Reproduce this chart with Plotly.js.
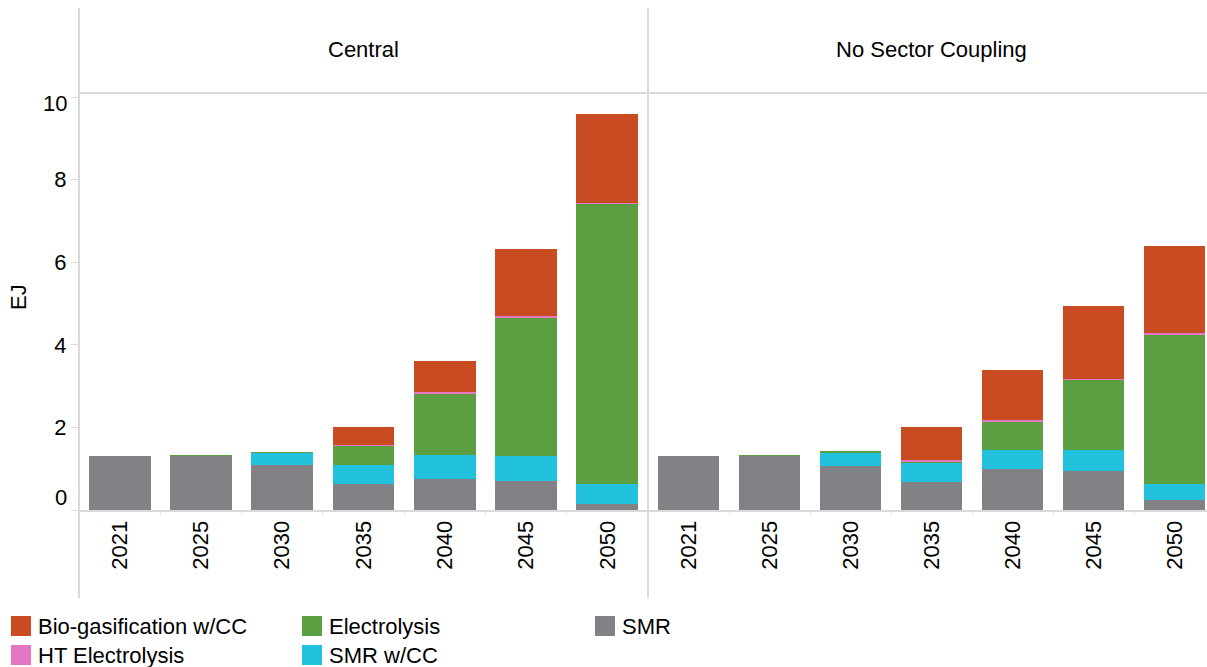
<!DOCTYPE html>
<html>
<head>
<meta charset="utf-8">
<script src="https://cdn.plot.ly/plotly-3.0.1.min.js"></script>
<style>html,body{margin:0;padding:0;background:#fff;}#chart{width:1207px;height:667px;}</style>
</head>
<body>
<div id="chart"></div>
<script>
// ---- data ----
const years = ['2021','2025','2030','2035','2040','2045','2050'];
const panels = ['Central', 'No Sector Coupling'];
const seriesNames = ['SMR', 'SMR w/CC', 'Electrolysis', 'HT Electrolysis', 'Bio-gasification w/CC'];

// Central
const smrCentral   = [1.32, 1.30, 1.08, 0.63, 0.74, 0.70, 0.14];
const smrccCentral = [0.00, 0.00, 0.29, 0.46, 0.60, 0.62, 0.48];
const elecCentral  = [0.00, 0.04, 0.04, 0.45, 1.47, 3.34, 6.79];
const htCentral    = [0.00, 0.00, 0.00, 0.03, 0.04, 0.03, 0.03];
const bioCentral   = [0.00, 0.00, 0.00, 0.45, 0.75, 1.64, 2.16];

// No Sector Coupling
const smrNSC   = [1.32, 1.30, 1.06, 0.69, 0.99, 0.94, 0.24];
const smrccNSC = [0.00, 0.00, 0.31, 0.44, 0.46, 0.51, 0.40];
const elecNSC  = [0.00, 0.04, 0.05, 0.03, 0.69, 1.70, 3.59];
const htNSC    = [0.00, 0.00, 0.00, 0.05, 0.03, 0.02, 0.05];
const bioNSC   = [0.00, 0.00, 0.00, 0.79, 1.23, 1.78, 2.11];

const yTickVals = [0, 2, 4, 6, 8, 10];

// ---- styles ----
const colors = {
  'SMR': '#828286',
  'SMR w/CC': '#22C2DF',
  'Electrolysis': '#5C9E42',
  'HT Electrolysis': '#E377C2',
  'Bio-gasification w/CC': '#C94B21'
};
const FONT = 'Liberation Sans, Arial, Helvetica, sans-serif';
const FS = 22;
const W = 1207, H = 667;
const L = 79, R = 0, T = 93, B = 157;
const PW = W - L - R, PH = H - T - B;
const px2x = p => (p - L) / PW;
const py2y = p => (H - B - p) / PH;
const lineCol = '#dadada';

const panelData = [
  [smrCentral, smrccCentral, elecCentral, htCentral, bioCentral],
  [smrNSC, smrccNSC, elecNSC, htNSC, bioNSC]
];

const traces = [];
panelData.forEach((arrs, pi) => {
  arrs.forEach((vals, si) => {
    traces.push({
      type: 'bar',
      x: years,
      y: vals,
      name: seriesNames[si],
      xaxis: pi === 0 ? 'x' : 'x2',
      yaxis: 'y',
      marker: {color: colors[seriesNames[si]], line: {width: 0}},
      showlegend: false,
      hoverinfo: 'skip'
    });
  });
});

const split = 569 / PW;

const xCommon = {
  type: 'category',
  showline: true, linecolor: lineCol, linewidth: 2,
  ticks: 'outside', tickson: 'boundaries', ticklen: 4, tickcolor: '#e6e6e6', tickwidth: 1,
  tickangle: -90,
  tickfont: {family: FONT, size: FS, color: '#000'},
  showgrid: false, zeroline: false, fixedrange: true
};

const layout = {
  width: W, height: H,
  margin: {l: L, r: R, t: T, b: B, pad: 0},
  paper_bgcolor: '#fff', plot_bgcolor: '#fff',
  barmode: 'stack', bargap: 0.24,
  font: {family: FONT, size: FS, color: '#000'},
  showlegend: false,
  xaxis: Object.assign({}, xCommon, {domain: [0, split], range: [-0.5, 6.5], anchor: 'y'}),
  xaxis2: Object.assign({}, xCommon, {domain: [split, 1], range: [-0.5, 6.4], anchor: 'y'}),
  yaxis: {
    range: [0, 10.1],
    tickvals: yTickVals,
    ticktext: yTickVals.map(v => (v === 0 || v === 10) ? '' : String(v)),
    ticks: 'outside', ticklen: 7, tickcolor: lineCol, tickwidth: 1,
    tickfont: {family: FONT, size: FS, color: '#000'},
    showgrid: false, zeroline: false, showline: false, fixedrange: true
  },
  shapes: [
    {type: 'line', xref: 'paper', yref: 'paper', x0: 0, x1: 0, y0: py2y(8), y1: py2y(598), line: {color: lineCol, width: 2}},
    {type: 'line', xref: 'paper', yref: 'paper', x0: split, x1: split, y0: py2y(8), y1: py2y(598), line: {color: lineCol, width: 2}},
    {type: 'line', xref: 'paper', yref: 'paper', x0: 0, x1: 1, y0: 1, y1: 1, line: {color: lineCol, width: 2}}
  ],
  annotations: []
};

// panel headers
layout.annotations.push({text: panels[0], xref: 'paper', yref: 'paper', x: split / 2, y: py2y(50), xanchor: 'center', yanchor: 'middle', showarrow: false, font: {family: FONT, size: FS, color: '#000'}});
layout.annotations.push({text: panels[1], xref: 'paper', yref: 'paper', x: px2x(931), y: py2y(50), xanchor: 'center', yanchor: 'middle', showarrow: false, font: {family: FONT, size: FS, color: '#000'}});

// y-axis end labels (clamped inside the plot like the reference)
layout.annotations.push({text: String(yTickVals[0]), xref: 'paper', yref: 'paper', x: px2x(69), y: py2y(497), xanchor: 'right', yanchor: 'middle', showarrow: false, font: {family: FONT, size: FS, color: '#000'}});
layout.annotations.push({text: String(yTickVals[yTickVals.length - 1]), xref: 'paper', yref: 'paper', x: px2x(69), y: py2y(104), xanchor: 'right', yanchor: 'middle', showarrow: false, font: {family: FONT, size: FS, color: '#000'}});

// y title
layout.annotations.push({text: 'EJ', xref: 'paper', yref: 'paper', x: px2x(18), y: py2y(297), xanchor: 'center', yanchor: 'middle', textangle: -90, showarrow: false, font: {family: FONT, size: FS, color: '#000'}});

// manual legend (3 columns, column-major)
const legendOrder = ['Bio-gasification w/CC', 'HT Electrolysis', 'Electrolysis', 'SMR w/CC', 'SMR'];
const colX = [11, 302, 595];
const rowY = [626, 655];
legendOrder.forEach((name, i) => {
  const c = Math.floor(i / 2), r = i % 2;
  const x0 = colX[c], yc = rowY[r];
  layout.shapes.push({type: 'rect', xref: 'paper', yref: 'paper', x0: px2x(x0), x1: px2x(x0 + 20), y0: py2y(yc - 10), y1: py2y(yc + 10), fillcolor: colors[name], line: {width: 0}});
  layout.annotations.push({text: name, xref: 'paper', yref: 'paper', x: px2x(x0 + 25), y: py2y(yc), xanchor: 'left', yanchor: 'middle', showarrow: false, font: {family: FONT, size: FS, color: '#000'}});
});

Plotly.newPlot('chart', traces, layout, {displayModeBar: false, staticPlot: true});
</script>
</body>
</html>
